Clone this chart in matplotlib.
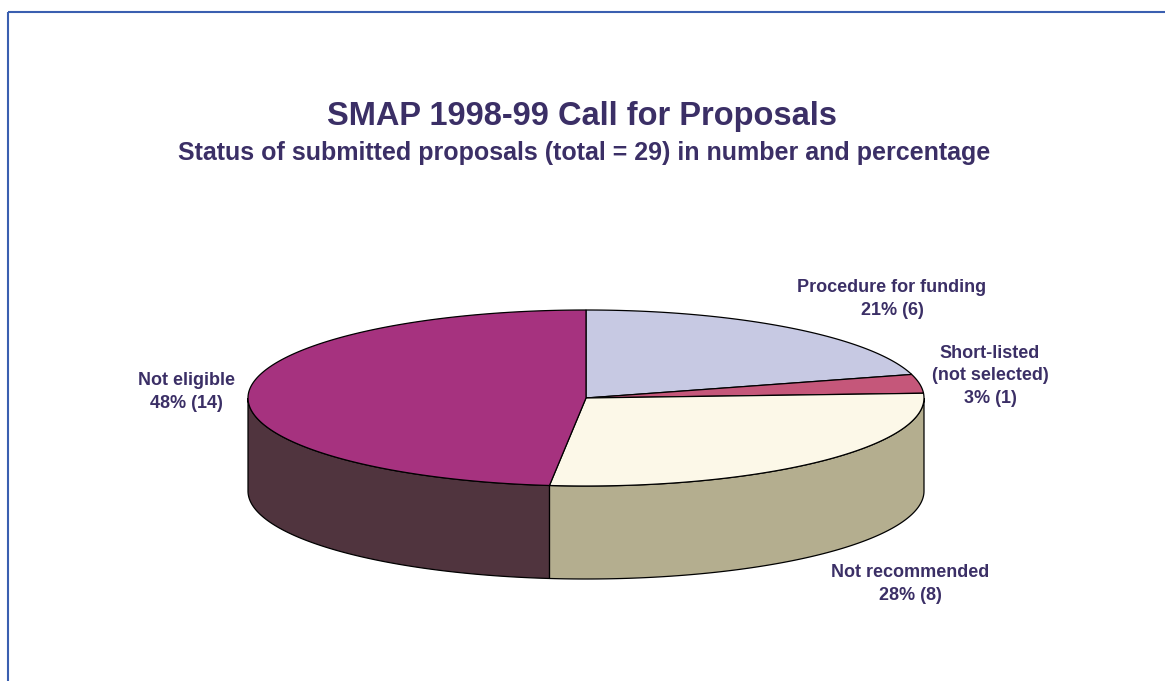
import numpy as np
import matplotlib.pyplot as plt
from matplotlib.patches import Polygon

# status of the submitted proposals
categories = ['Procedure for funding', 'Short-listed\n(not selected)',
              'Not recommended', 'Not eligible']
counts = [6, 1, 8, 14]
top_colors = ['#C7C9E3', '#C5577A', '#FCF8E8', '#A6327F']
side_colors = ['#8F91AE', '#8E3F58', '#B4AE8F', '#50343E']

total = sum(counts)

txt = '#3B2F66'
plt.rcParams['font.family'] = ['Liberation Sans', 'DejaVu Sans']

fig = plt.figure(figsize=(11.65, 6.81), dpi=100)
ax = fig.add_axes([0, 0, 1, 1])
ax.set_xlim(0, 1165)
ax.set_ylim(681, 0)
ax.axis('off')

# frame lines (top and left)
ax.plot([8, 1165], [12, 12], color='#3A5FB0', lw=1.5, solid_capstyle='butt')
ax.plot([8, 8], [12, 681], color='#3A5FB0', lw=1.5, solid_capstyle='butt')

ax.text(582, 116, 'SMAP 1998-99 Call for Proposals', ha='center', va='center',
        fontsize=23.5, fontweight='bold', color=txt)
ax.text(584, 153, 'Status of submitted proposals (total = 29) in number and percentage',
        ha='center', va='center', fontsize=18, fontweight='bold', color=txt)

# pie geometry (screen units)
cx, cy = 586, 398
rx, ry = 338, 88
depth = 93


def ell(theta, dy=0):
    t = np.radians(theta)
    return cx + rx * np.cos(t), cy - ry * np.sin(t) + dy


# slice angles, clockwise from 12 o'clock
bounds = [90.0]
for c in counts:
    bounds.append(bounds[-1] - c / total * 360)

# side walls for the front half (-180..0)
for i in range(len(counts)):
    a, b = bounds[i], bounds[i + 1]      # a > b
    lo, hi = max(b, -180), min(a, 0)
    if lo >= hi:
        a2, b2 = a + 360, b + 360
        lo, hi = max(b2, 180), min(a2, 360)
        if lo >= hi:
            continue
    th = np.linspace(lo, hi, 120)
    xs, ys = ell(th)
    xb, yb = ell(th[::-1], depth)
    pts = np.column_stack([np.concatenate([xs, xb]), np.concatenate([ys, yb])])
    ax.add_patch(Polygon(pts, closed=True, facecolor=side_colors[i],
                         edgecolor='black', lw=0.9, zorder=2))

# top faces
for i in range(len(counts)):
    a, b = bounds[i], bounds[i + 1]
    th = np.linspace(a, b, 200)
    xs, ys = ell(th)
    pts = np.column_stack([np.concatenate([[cx], xs]), np.concatenate([[cy], ys])])
    ax.add_patch(Polygon(pts, closed=True, facecolor=top_colors[i],
                         edgecolor='black', lw=0.9, zorder=3))

# labels
label_pos = [(892, 299), (990, 376), (910, 584), (186, 392)]
for name, c, (lx, ly) in zip(categories, counts, label_pos):
    ax.text(lx, ly, f'{name}\n{round(c / total * 100)}% ({c})', ha='center', va='center',
            fontsize=13, fontweight='bold', color=txt, linespacing=1.45)

fig.savefig('out.png', dpi=100)
